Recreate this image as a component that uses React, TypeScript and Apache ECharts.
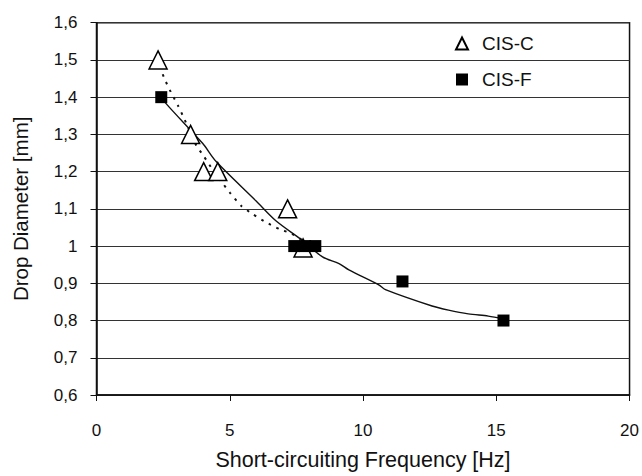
import React, { useEffect, useRef } from "react";
import * as echarts from "echarts";

const cisC: [number, number][] = [
  [2.31, 1.5],
  [3.53, 1.3],
  [4.02, 1.2],
  [4.55, 1.2],
  [7.17, 1.1],
  [7.75, 0.995],
];

const cisF: [number, number][] = [
  [2.43, 1.4],
  [7.42, 1.0],
  [7.83, 1.0],
  [8.21, 1.0],
  [11.48, 0.905],
  [15.27, 0.8],
];

const trendC: [number, number][] = [
  [2.37, 1.483],
  [2.56, 1.448],
  [2.78, 1.415],
  [3.06, 1.377],
  [3.28, 1.344],
  [3.74, 1.271],
  [4.03, 1.241],
  [4.36, 1.205],
  [4.69, 1.173],
  [5.01, 1.143],
  [5.43, 1.108],
  [5.86, 1.086],
  [6.36, 1.064],
  [6.86, 1.046],
  [7.33, 1.033],
  [7.72, 1.016],
];

const trendF: [number, number][] = [
  [2.42, 1.404],
  [2.62, 1.382],
  [3.98, 1.276],
  [4.49, 1.227],
  [5.99, 1.121],
  [6.73, 1.068],
  [7.73, 1.015],
  [8.48, 0.971],
  [9.1, 0.953],
  [9.47, 0.936],
  [10.59, 0.896],
  [10.84, 0.883],
  [12.59, 0.839],
  [13.21, 0.828],
  [13.95, 0.818],
  [14.7, 0.812],
  [15.27, 0.805],
];

const FONT = "'Liberation Sans', Arial, Helvetica, sans-serif";

export default function App() {
  const ref = useRef<HTMLDivElement>(null);
  useEffect(() => {
    if (!ref.current) return;
    const chart = echarts.init(ref.current, undefined, { renderer: "svg" });
    chart.setOption({
      animation: false,
      backgroundColor: "#fff",
      textStyle: { fontFamily: FONT },
      grid: {
        left: 96.5,
        right: 10.3,
        top: 22.7,
        bottom: 76,
        show: true,
        borderColor: "#111",
        borderWidth: 1.5,
        backgroundColor: "transparent",
      },
      legend: {
        orient: "vertical",
        left: 450,
        top: 29,
        itemWidth: 12,
        itemHeight: 12,
        itemGap: 17,
        data: ["CIS-C", "CIS-F"],
        textStyle: {
          fontFamily: FONT,
          fontSize: 19,
          lineHeight: 19,
          color: "#111",
          padding: [0, 0, 0, 9],
        },
      },
      xAxis: {
        type: "value",
        min: 0,
        max: 20,
        interval: 5,
        name: "Short-circuiting Frequency [Hz]",
        nameLocation: "middle",
        nameGap: 54,
        nameTextStyle: { fontFamily: FONT, fontSize: 21.5, color: "#111" },
        axisLine: { show: true, lineStyle: { color: "#111", width: 1.5 } },
        axisTick: { show: true, length: 6, lineStyle: { color: "#111" } },
        axisLabel: { fontFamily: FONT, fontSize: 17, color: "#111", margin: 27 },
        splitLine: { show: false },
      },
      yAxis: {
        type: "value",
        min: 0.6,
        max: 1.6,
        interval: 0.1,
        name: "Drop Diameter [mm]",
        nameLocation: "middle",
        nameGap: 66,
        nameTextStyle: { fontFamily: FONT, fontSize: 20.5, color: "#111" },
        axisLine: { show: true, lineStyle: { color: "#111", width: 1.5 } },
        axisTick: { show: true, length: 6, lineStyle: { color: "#111" } },
        axisLabel: {
          fontFamily: FONT,
          fontSize: 17,
          color: "#111",
          margin: 19,
          formatter: (v: number) => String(Number(v.toFixed(1))).replace(".", ","),
        },
        splitLine: { show: true, lineStyle: { color: "#333", width: 1 } },
      },
      series: [
        {
          name: "trendC",
          type: "line",
          data: trendC,
          smooth: 0.2,
          showSymbol: false,
          symbol: "none",
          lineStyle: { color: "#111", width: 2, type: [2.5, 6] },
          z: 2,
        },
        {
          name: "trendF",
          type: "line",
          data: trendF,
          smooth: 0.3,
          showSymbol: false,
          symbol: "none",
          lineStyle: { color: "#111", width: 1.4 },
          z: 2,
        },
        {
          name: "CIS-C",
          type: "scatter",
          data: cisC,
          symbol: "triangle",
          symbolSize: 18,
          itemStyle: { color: "#fff", borderColor: "#000", borderWidth: 1.5, opacity: 1 },
          z: 3,
        },
        {
          name: "CIS-F",
          type: "scatter",
          data: cisF,
          symbol: "rect",
          symbolSize: 12,
          itemStyle: { color: "#000", opacity: 1 },
          z: 4,
        },
      ],
    });
    return () => chart.dispose();
  }, []);
  return (
    <div
      ref={ref}
      style={{ position: "absolute", left: 0, top: 0, width: 642, height: 476 }}
    />
  );
}
